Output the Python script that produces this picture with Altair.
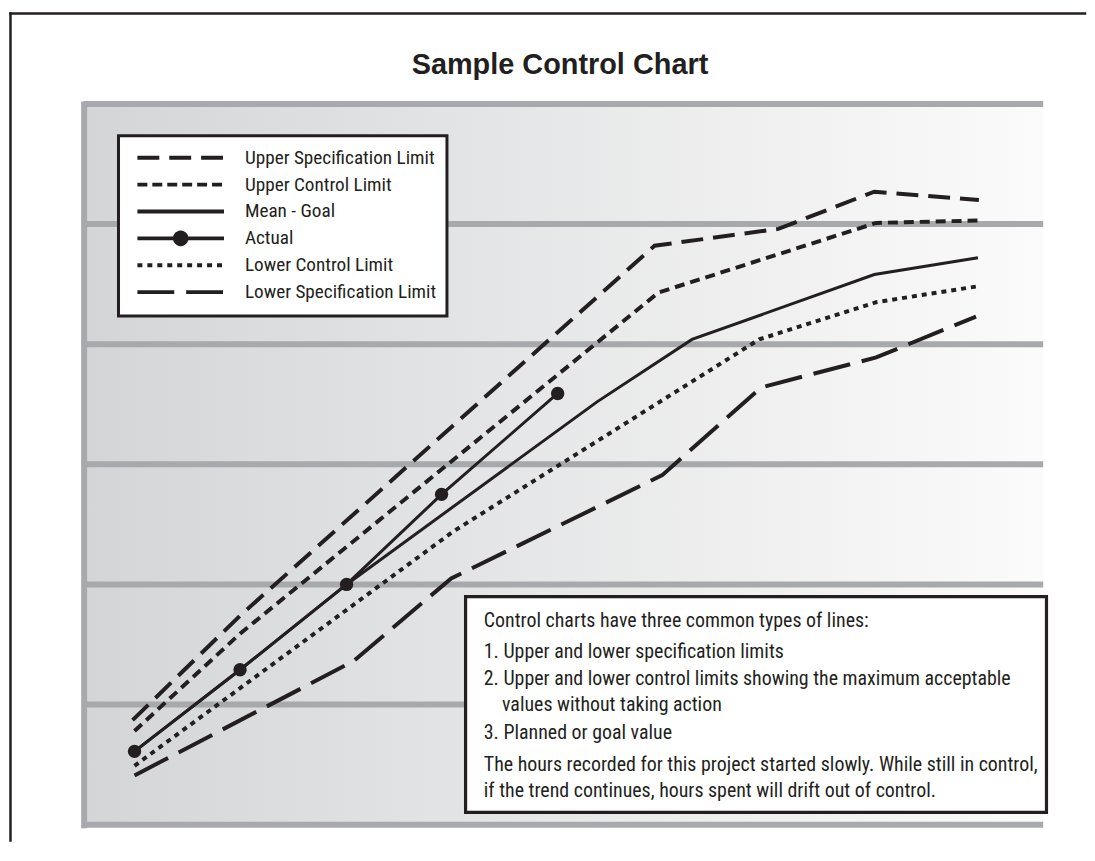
import math
import altair as alt
import pandas as pd

# ---------------- data ----------------
# x: time units (plot spans 0-10), y: hours units (plot spans 0-6)
series_names = ["Upper Specification Limit", "Upper Control Limit", "Mean - Goal",
                "Actual", "Lower Control Limit", "Lower Specification Limit"]

usl_x = [0.51, 1.63, 5.95, 7.24, 8.24, 9.33]
usl_y = [0.87, 1.74, 4.82, 4.96, 5.27, 5.20]
ucl_x = [0.53, 1.63, 5.99, 8.26, 9.32]
ucl_y = [0.78, 1.59, 4.43, 5.01, 5.03]
mean_x = [0.53, 1.63, 2.74, 5.35, 6.34, 8.24, 9.32]
mean_y = [0.61, 1.29, 2.00, 3.52, 4.04, 4.58, 4.72]
actual_x = [0.53, 1.63, 2.74, 3.73, 4.94]
actual_y = [0.61, 1.29, 2.00, 2.75, 3.59]
lcl_x = [0.53, 3.85, 7.04, 8.26, 9.30]
lcl_y = [0.49, 2.44, 4.04, 4.35, 4.48]
lsl_x = [0.53, 2.81, 3.83, 6.03, 7.06, 8.26, 9.30]
lsl_y = [0.41, 1.36, 2.05, 2.91, 3.64, 3.89, 4.23]

grid_values = [0, 1, 2, 3, 4, 5, 6]

chart_title = "Sample Control Chart"
note_title = "Control charts have three common types of lines:"
note_items = ["1. Upper and lower specification limits",
              "2. Upper and lower control limits showing the maximum acceptable",
              "values without taking action",
              "3. Planned or goal value"]
note_tail = ["The hours recorded for this project started slowly. While still in control,",
             "if the trend continues, hours spent will drift out of control."]

# ---------------- styles ----------------
INK = "#231f20"
GRID = "#a7a9ac"
W, H = 964, 724
NARROW = "Liberation Sans Narrow, Roboto Condensed, Arial Narrow, Liberation Sans, sans-serif"

line_dashes = [[22, 10], [10, 6], None, None, [5, 5], [38, 12]]
line_widths = [4, 4, 3, 3, 4, 4]

# legend symbol paths: the symbol's unit box is 20 px (size 400); the drawn
# sample line is 87 px long and starts at the left edge of that box.
SYM_BOX = 20.0
U = SYM_BOX / 2          # px per path unit
SAMPLE = 87.0            # px length of the legend sample line
DOT_R = 5.9              # px radius of the legend dot
mid = SAMPLE / 2


def px(v):
    return v / U - 1     # px from the left edge -> path units


def dash_path(on, off):
    parts, pos = [], 0.0
    while pos < SAMPLE - 0.5:
        end = min(pos + on, SAMPLE)
        parts.append("M%.4f,0L%.4f,0" % (px(pos), px(end)))
        pos = end + off
    return "".join(parts)


def ring(cx_px, r_px, n=24):
    pts = []
    for k in range(n):
        a = 2 * math.pi * k / n
        pts.append("%.4f,%.4f" % (px(cx_px + r_px * math.cos(a)), r_px * math.sin(a) / U))
    return "M" + "L".join(pts) + "Z"


# zero-length (invisible) sub-paths that give every legend row the same height
spacer = "M%.4f,%.4fL%.4f,%.4fM%.4f,%.4fL%.4f,%.4f" % (
    px(mid), -DOT_R / U, px(mid), -DOT_R / U, px(mid), DOT_R / U, px(mid), DOT_R / U)
solid = "M%.4f,0L%.4f,0" % (px(0), px(SAMPLE))
actual_sym = solid + ring(mid, 1.5) + ring(mid, 4.2) + ring(mid, DOT_R)
legend_dashes = [[22, 10], [10, 5], "solid", None, [5, 5], [37, 12]]
shape_range = []
for d in legend_dashes:
    if d is None:
        shape_range.append(actual_sym)
    elif d == "solid":
        shape_range.append(solid + spacer)
    else:
        shape_range.append(dash_path(*d) + spacer)

# ---------------- tables ----------------
rows = []
for name, xs, ys in zip(series_names,
                        [usl_x, ucl_x, mean_x, actual_x, lcl_x, lsl_x],
                        [usl_y, ucl_y, mean_y, actual_y, lcl_y, lsl_y]):
    for i, (xv, yv) in enumerate(zip(xs, ys)):
        rows.append({"series": name, "x": xv, "y": yv, "i": i})
lines_df = pd.DataFrame(rows)
actual_df = pd.DataFrame({"x": actual_x, "y": actual_y})
grid_df = pd.DataFrame({"y": grid_values})
legend_df = pd.DataFrame({"series": series_names})

xscale = alt.Scale(domain=[0, 10], nice=False, zero=False)
yscale = alt.Scale(domain=[0, 6], nice=False, zero=False)
yaxis = alt.Axis(labels=False, ticks=False, grid=False, title=None, domain=True,
                 domainColor=GRID, domainWidth=6, domainCap="square", zindex=1)
X = alt.X("x:Q", scale=xscale, axis=None)
Y = alt.Y("y:Q", scale=yscale, axis=yaxis)

gradient = alt.Gradient(gradient="linear",
                        stops=[alt.GradientStop(offset=0, color="#d4d5d7"),
                               alt.GradientStop(offset=1, color="#fbfbfb")],
                        x1=0, x2=1, y1=0, y2=0)

one = pd.DataFrame({"a": [0]})

background = alt.Chart(one).mark_rect(fill=gradient).encode(
    x=alt.value(0), x2=alt.value(W), y=alt.value(0), y2=alt.value(H))

grid = alt.Chart(grid_df).mark_rule(color=GRID, strokeWidth=6).encode(y=Y)

line_layers = []
for name, dash, sw in zip(series_names, line_dashes, line_widths):
    kw = {"strokeDash": dash} if dash else {}
    line_layers.append(
        alt.Chart(lines_df).transform_filter(alt.datum.series == name).mark_line(
            color=INK, strokeWidth=sw, strokeCap="butt", strokeJoin="miter", **kw
        ).encode(x=X, y=Y, order="i:Q"))

dots = alt.Chart(actual_df).mark_circle(color=INK, size=180, opacity=1).encode(x=X, y=Y)

legend_layer = alt.Chart(legend_df).transform_filter("false").mark_point(
    filled=False, color=INK, opacity=1, size=SYM_BOX * SYM_BOX, strokeWidth=3.8).encode(
    shape=alt.Shape("series:N", scale=alt.Scale(domain=series_names, range=shape_range),
                    legend=alt.Legend(
                        title=None, orient="none", legendX=35, legendY=32, padding=10,
                        strokeColor=INK, fillColor="white",
                        symbolStrokeColor=INK, symbolFillColor="transparent",
                        symbolStrokeWidth=3.8, symbolOpacity=1,
                        symbolSize=SYM_BOX * SYM_BOX,
                        symbolOffset=7, labelOffset=86, rowPadding=-1,
                        labelFont=NARROW, labelFontSize=19.3, labelColor=INK,
                        labelLimit=400))
)

# chart title as a text mark centred over the plot
title = alt.Chart(one).mark_text(align="center", baseline="alphabetic",
                                 font="Liberation Sans", fontSize=29, fontWeight="bold",
                                 color=INK).encode(
    x=alt.value(W / 2 - 3.5), y=alt.value(-30.5), text=alt.value(chart_title))

# annotation box (pixel positions inside the plot)
BX0, BY0, BX1, BY1 = 383.7, 495, 967.3, 711.7
box = alt.Chart(one).mark_rect(fill="white", stroke=INK, strokeWidth=3.2).encode(
    x=alt.value(BX0), x2=alt.value(BX1), y=alt.value(BY0), y2=alt.value(BY1))

TX = 402
text_specs = [(note_title, TX, 525.7), (note_items[0], TX, 556.7), (note_items[1], TX, 584),
              (note_items[2], TX + 18.3, 610), (note_items[3], TX, 637.7),
              (note_tail[0], TX, 670), (note_tail[1], TX, 696.7)]
texts = [alt.Chart(one).mark_text(align="left", baseline="alphabetic", font=NARROW,
                                  fontSize=20, color=INK).encode(
    x=alt.value(tx), y=alt.value(ty), text=alt.value(t)) for t, tx, ty in text_specs]

# outer frame (left and top edges)
frame_top = alt.Chart(one).mark_rule(color=INK, strokeWidth=2.5, strokeCap="square").encode(
    x=alt.value(-73.5), x2=alt.value(W + 42), y=alt.value(-91))
frame_left = alt.Chart(one).mark_rule(color=INK, strokeWidth=2.5, strokeCap="square").encode(
    x=alt.value(-73.5), y=alt.value(-91), y2=alt.value(H + 16))

chart = alt.layer(background, grid, *line_layers, dots, legend_layer, box, *texts, title,
                  frame_top, frame_left).properties(
    width=W, height=H,
    padding={"left": 0, "top": 1.5, "right": 0, "bottom": 0},
).configure_view(stroke=None).configure_legend(strokeWidth=3)

chart.save("out.html", embed_options={"renderer": "svg", "actions": False})
